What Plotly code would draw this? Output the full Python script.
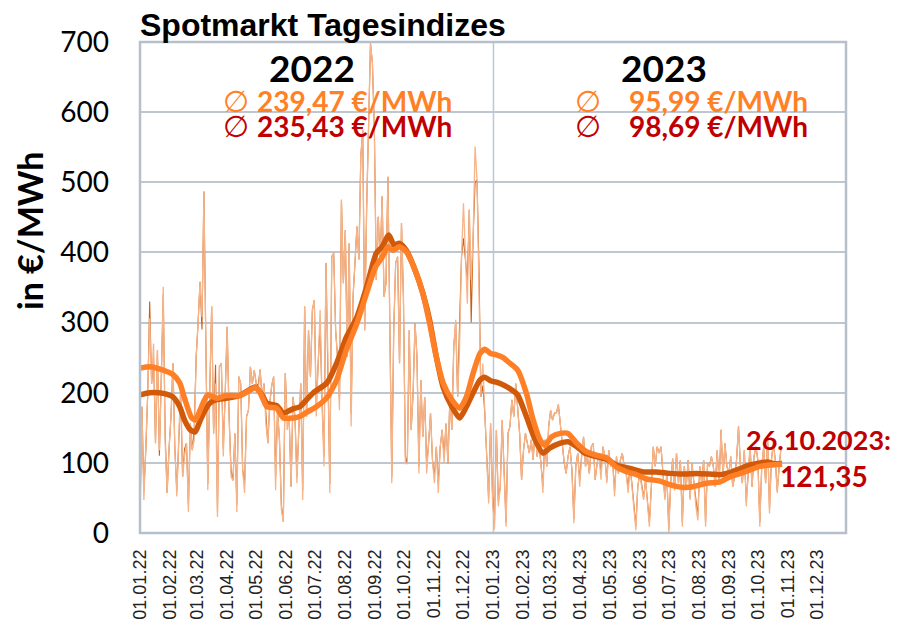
import pandas as pd
import plotly.graph_objects as go

# ---------------- data ----------------
title_text = "Spotmarkt Tagesindizes"
y_title = "in €/MWh"
start_date = "2022-01-01"
last_date = "2023-10-26"

# smoothed (thick) lines: day offset from 01.01.22, value in EUR/MWh
ma_orange_days = [0, 10, 20, 28, 34, 41, 46, 53, 57, 62, 66, 70, 79, 89, 103, 114, 119, 124, 131, 141,
                  148, 158, 165, 172, 182, 193, 203, 213, 224, 234, 243, 250, 256, 261, 268, 275, 284,
                  292, 299, 306, 313, 322, 330, 337, 344, 351, 356, 362, 368, 375, 382, 390, 399, 406,
                  413, 418, 425, 434, 442, 451, 461, 471, 482, 492, 503, 513, 523, 537, 547, 561, 571,
                  585, 599, 609, 620, 630, 640, 651, 663]
ma_orange_vals = [235, 237, 234, 230, 226, 214, 192, 165, 161, 175, 188, 197, 192, 196, 196, 204, 207, 200,
                  180, 178, 164, 164, 166, 172, 180, 193, 218, 261, 299, 342, 379, 393, 408, 403, 408, 401,
                  375, 342, 299, 251, 214, 190, 178, 194, 228, 256, 262, 256, 254, 250, 242, 232, 199, 161,
                  133, 125, 137, 142, 142, 128, 116, 111, 107, 94, 87, 83, 77, 74, 69, 65, 66, 71, 73, 80,
                  85, 90, 95, 97, 98]

ma_red_days = [0, 10, 24, 34, 41, 46, 52, 57, 62, 66, 72, 79, 89, 103, 114, 119, 126, 131, 141, 148, 158,
               165, 172, 179, 193, 203, 213, 224, 234, 244, 250, 257, 262, 268, 275, 284, 292, 299, 306,
               313, 322, 330, 337, 344, 351, 356, 362, 368, 372, 384, 390, 399, 408, 416, 423, 434, 442,
               451, 459, 471, 482, 492, 506, 520, 533, 547, 561, 575, 588, 599, 609, 620, 630, 640, 649,
               654, 663]
ma_red_vals = [197, 200, 199, 194, 180, 161, 147, 144, 160, 172, 185, 190, 192, 196, 205, 208, 197, 185,
               182, 171, 177, 180, 190, 200, 214, 242, 279, 308, 351, 399, 408, 425, 411, 413, 403, 375,
               342, 304, 251, 208, 180, 164, 180, 200, 218, 222, 217, 215, 213, 204, 197, 166, 133, 114,
               121, 128, 130, 123, 114, 109, 105, 97, 92, 87, 87, 85, 84, 85, 84, 83, 86, 92, 97, 100,
               101, 99, 99]

# daily index (thin lines), one reading every second day from 01.01.22, plus the last day 26.10.23
daily_orange = [
    14, 180, 47, 118, 200, 306, 213, 270, 128, 261,
    118, 213, 351, 128, 57, 120, 166, 242, 120, 52,
    133, 213, 80, 110, 128, 30, 156, 118, 133, 251,
    300, 358, 308, 487, 270, 61, 200, 323, 142, 213,
    23, 237, 242, 109, 200, 294, 166, 80, 75, 142,
    30, 223, 213, 90, 57, 166, 175, 237, 213, 232,
    213, 200, 233, 194, 213, 156, 128, 185, 210, 223,
    61, 175, 133, 33, 16, 228, 147, 166, 66, 194,
    166, 71, 150, 213, 47, 323, 166, 289, 223, 318,
    332, 166, 242, 318, 185, 95, 385, 251, 57,
    394, 399, 289, 250, 175, 475, 356, 432, 251, 413,
    152, 337, 385, 437, 390, 537, 575, 289, 461, 598,
    698, 670, 575, 361, 451, 385, 480, 337, 356, 508,
    289, 71, 289, 385, 394, 242, 442, 337, 99, 99,
    289, 147, 199, 299, 251, 85, 218, 137, 194, 85,
    128, 171, 104, 71, 123, 57, 123, 147, 99, 156,
    99, 194, 147, 266, 304, 194, 266, 394, 470, 385,
    327, 461, 361, 423, 551, 503, 337, 194, 242, 171,
    99, 42, 156, 47, 5, 147, 38,
    66, 161, 95, 9, 142, 152, 190, 166, 213, 175,
    142, 76, 118, 142, 125, 114, 133, 104, 152, 109,
    123, 100, 57, 133, 95, 152, 175, 161, 171, 171,
    183, 152, 123, 100, 85, 109, 123, 90, 14, 95,
    114, 66, 109, 137, 95, 109, 85, 123, 128, 76,
    99, 114, 76, 123, 109, 71, 118, 95, 104, 52,
    109, 85, 104, 114, 95, 85, 57, 95, 66, 28,
    4, 66, 85, 66, 47, 76, 38, 9, 66, 123,
    95, 123, 114, 123, 85, 47, 85, 0, 71,
    106, 61, 114, 71, 104, 9, 95, 66, 104, 47,
    99, 71, 38, 18, 95, 71, 104, 9, 99, 95,
    109, 95, 66, 118, 71, 147, 80, 128, 95, 85,
    109, 66, 80, 104, 152, 95, 71, 118, 38, 85,
    123, 66, 109, 123, 104, 9, 95, 123, 71, 137,
    28, 104, 128, 104, 57, 95, 123]
daily_orange_last = 120.0

daily_red = [
    30, 180, 60, 118, 200, 330, 213, 250, 128, 261,
    110, 213, 340, 140, 57, 120, 166, 242, 120, 60,
    133, 200, 80, 120, 128, 40, 156, 118, 150, 251,
    300, 358, 290, 487, 270, 70, 200, 323, 142, 240,
    30, 237, 242, 120, 200, 294, 166, 90, 75, 142,
    40, 223, 213, 90, 70, 166, 175, 237, 213, 232,
    213, 210, 233, 194, 213, 170, 128, 185, 210, 223,
    80, 175, 133, 40, 16, 228, 160, 166, 66, 194,
    166, 80, 150, 213, 60, 323, 166, 289, 223, 318,
    332, 180, 242, 300, 185, 110, 385, 251, 70,
    394, 399, 289, 250, 190, 475, 356, 432, 251, 413,
    170, 337, 385, 437, 390, 537, 575, 289, 461, 598,
    698, 670, 575, 361, 451, 385, 480, 337, 356, 508,
    289, 80, 289, 385, 394, 242, 442, 337, 110, 99,
    289, 147, 199, 299, 251, 95, 218, 137, 194, 95,
    128, 171, 104, 80, 123, 70, 123, 147, 110, 156,
    99, 194, 147, 266, 300, 194, 300, 394, 420, 385,
    360, 461, 300, 423, 500, 503, 380, 194, 210, 171,
    99, 50, 156, 55, 10, 147, 45,
    66, 161, 95, 15, 142, 152, 190, 166, 213, 175,
    142, 76, 118, 142, 125, 114, 133, 104, 152, 109,
    123, 100, 66, 133, 95, 152, 175, 161, 171, 171,
    183, 152, 123, 100, 85, 109, 123, 90, 20, 95,
    114, 75, 109, 137, 95, 109, 85, 123, 128, 76,
    99, 114, 85, 123, 109, 75, 118, 95, 104, 60,
    109, 85, 104, 114, 95, 85, 66, 95, 70, 35,
    10, 66, 85, 70, 50, 76, 45, 15, 66, 123,
    95, 123, 114, 123, 85, 50, 85, 5, 71,
    106, 61, 114, 71, 104, 15, 95, 66, 104, 50,
    99, 71, 45, 25, 95, 71, 104, 15, 99, 95,
    109, 95, 66, 118, 71, 147, 80, 128, 95, 85,
    109, 66, 80, 104, 152, 95, 71, 118, 45, 85,
    123, 66, 109, 123, 104, 15, 95, 123, 71, 137,
    35, 104, 128, 104, 60, 95, 123]
daily_red_last = 121.35

year_labels = ["2022", "2023"]
avg_orange = ["239,47 €/MWh", "95,99 €/MWh"]
avg_red = ["235,43 €/MWh", "98,69 €/MWh"]
last_label = "26.10.2023:"
last_value_label = "121,35"

# ---------------- styles ----------------
C_ORANGE = "#FF7F27"
C_DARK = "#D05A0A"
C_THIN_LIGHT = "#F6B488"
C_THIN_DARK = "#C95F17"
C_TEXT_ORANGE = "#FF8025"
C_TEXT_RED = "#C00000"
C_GRID = "#BEC7D1"
SANS = "Liberation Sans, Arial, sans-serif"
CAL = "Lato, Liberation Sans, sans-serif"

t0 = pd.Timestamp(start_date)
daily_dates = list(pd.date_range(start_date, periods=len(daily_orange), freq="2D")) + [pd.Timestamp(last_date)]
ma_o_dates = t0 + pd.to_timedelta(ma_orange_days, unit="D")
ma_r_dates = t0 + pd.to_timedelta(ma_red_days, unit="D")

fig = go.Figure()
fig.add_trace(go.Scatter(x=daily_dates, y=daily_red + [daily_red_last], mode="lines",
                         line=dict(color=C_THIN_DARK, width=1.1), hoverinfo="skip"))
fig.add_trace(go.Scatter(x=daily_dates, y=daily_orange + [daily_orange_last], mode="lines",
                         line=dict(color=C_THIN_LIGHT, width=1.3), hoverinfo="skip"))
fig.add_trace(go.Scatter(x=ma_r_dates, y=ma_red_vals, mode="lines",
                         line=dict(color=C_DARK, width=5.5, shape="spline", smoothing=0.6)))
fig.add_trace(go.Scatter(x=ma_o_dates, y=ma_orange_vals, mode="lines",
                         line=dict(color=C_ORANGE, width=5.5, shape="spline", smoothing=0.6)))

L, R, T, B = 140, 56, 42, 92
W, H = 902, 625
PW, PH = W - L - R, H - T - B


def px(xp):
    return (xp - L) / PW


def py(yp):
    return (H - B - yp) / PH


fig.update_layout(
    width=W, height=H, margin=dict(l=L, r=R, t=T, b=B, autoexpand=False),
    plot_bgcolor="white", paper_bgcolor="white", showlegend=False,
    title=dict(text="<b>" + title_text + "</b>", x=0, xref="paper", xanchor="left",
               y=1 - 25 / H, yref="container", yanchor="middle",
               font=dict(family=SANS, size=32, color="black")),
    xaxis=dict(type="date", range=["2022-01-01", "2023-12-31"], tick0="2022-01-01", dtick="M1",
               tickformat="%d.%m.%y", tickangle=-90, showgrid=False, zeroline=False, showline=False,
               ticks="", ticklabelstandoff=12, automargin=False,
               tickfont=dict(family=SANS, size=18, color="#222")),
    yaxis=dict(range=[0, 700], dtick=100, showgrid=True, gridcolor=C_GRID, gridwidth=1.5,
               zeroline=False, showline=False, ticks="", ticklabelstandoff=30, automargin=False,
               tickfont=dict(family=CAL, size=28, color="black")),
)

fig.add_shape(type="line", xref="x", yref="paper", x0="2023-01-01", x1="2023-01-01", y0=0, y1=1,
              line=dict(color=C_GRID, width=1.5), layer="below")
fig.add_shape(type="rect", xref="paper", yref="paper", x0=0, x1=1, y0=0, y1=1,
              line=dict(color="#B6C0CA", width=2.5), layer="above")

ann = []
ann.append(dict(x=px(29), y=py(231), text="<b>" + y_title + "</b>", textangle=-90,
                font=dict(family=CAL, size=34, color="black")))
# year headings
ann.append(dict(x=px(312), y=py(68), text="<b>" + year_labels[0] + "</b>",
                font=dict(family=CAL, size=37, color="black")))
ann.append(dict(x=px(664), y=py(68), text="<b>" + year_labels[1] + "</b>",
                font=dict(family=CAL, size=37, color="black")))
# averages
for xs, xt, yv, txt, col in [(236, 255, 101, avg_orange[0], C_TEXT_ORANGE),
                             (236, 255, 126, avg_red[0], C_TEXT_RED),
                             (588, 627, 101, avg_orange[1], C_TEXT_ORANGE),
                             (588, 627, 126, avg_red[1], C_TEXT_RED)]:
    ann.append(dict(x=px(xs), y=py(yv), text="∅", font=dict(family="DejaVu Sans", size=30, color=col)))
    ann.append(dict(x=px(xt), y=py(yv), text="<b>" + txt + "</b>", xanchor="left",
                    font=dict(family=CAL, size=28, color=col)))
ann.append(dict(x=px(744), y=py(439), text="<b>" + last_label + "</b>", xanchor="left",
                font=dict(family=CAL, size=27, color=C_TEXT_RED)))
ann.append(dict(x=px(778), y=py(476), text="<b>" + last_value_label + "</b>", xanchor="left",
                font=dict(family=CAL, size=28, color=C_TEXT_RED)))

for a in ann:
    a.setdefault("xanchor", "center")
    a.update(xref="paper", yref="paper", yanchor="middle", showarrow=False)
    fig.add_annotation(**a)

fig.write_html("out.html", config={"displayModeBar": False},
               post_script="document.body.style.margin='0';document.body.style.overflow='hidden';")
